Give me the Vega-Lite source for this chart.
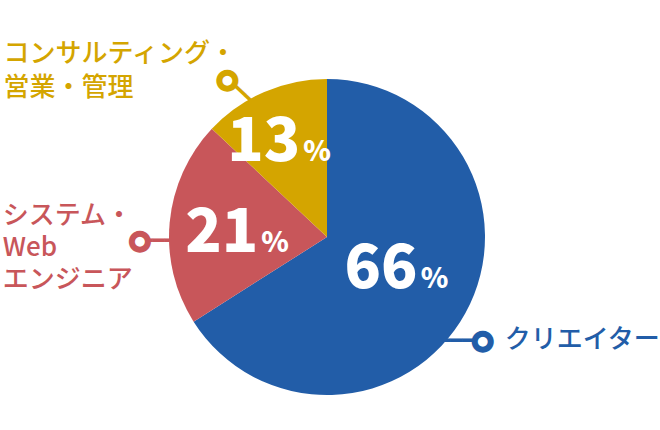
{
  "$schema": "https://vega.github.io/schema/vega-lite/v6.json",
  "autosize": {"type": "none"},
  "width": 654,
  "height": 386,
  "padding": {"left": 0, "top": 44, "right": 6, "bottom": 0},
  "background": "white",
  "view": {"stroke": null},
  "data": {"values": [
    {"cat": "クリエイター", "value": 66, "label": "クリエイター"},
    {"cat": "システム・Webエンジニア", "value": 21, "label": "システム・\nWeb\nエンジニア"},
    {"cat": "コンサルティング・営業・管理", "value": 13, "label": "コンサルティング・\n営業・管理"}
  ]},
  "encoding": {
    "theta": {"field": "value", "type": "quantitative", "stack": true},
    "order": {"field": "value", "type": "quantitative", "sort": "descending"},
    "detail": {"field": "cat", "type": "nominal"}
  },
  "layer": [
    {"mark": {"type": "arc", "outerRadius": 158},
     "encoding": {"color": {"field": "cat", "type": "nominal", "legend": null,
       "scale": {"domain": ["クリエイター", "システム・Webエンジニア", "コンサルティング・営業・管理"], "range": ["#225da8", "#c8565a", "#d4a500"]}}}},

    {"mark": {"type": "text", "radius": 180, "dx": -22, "dy": 17, "align": "center", "baseline": "middle", "font": "DejaVu Sans Mono", "fontSize": 20, "color": "#225da8"},
     "encoding": {"text": {"condition": {"test": "datum.cat === 'クリエイター'", "value": "━━━━"}, "value": ""}}},
    {"mark": {"type": "text", "radius": 180, "dx": 11, "dy": 21, "align": "center", "baseline": "middle", "font": "DejaVu Sans Mono", "fontSize": 20, "color": "#c8565a"},
     "encoding": {"text": {"condition": {"test": "datum.cat === 'システム・Webエンジニア'", "value": "━━━"}, "value": ""}}},
    {"mark": {"type": "text", "radius": 180, "dx": 2, "dy": 25, "angle": 43, "align": "center", "baseline": "middle", "font": "DejaVu Sans Mono", "fontSize": 20, "color": "#d4a500"},
     "encoding": {"text": {"condition": {"test": "datum.cat === 'コンサルティング・営業・管理'", "value": "━━━"}, "value": ""}}},

    {"mark": {"type": "text", "radius": 180, "dx": -2, "dy": 17, "align": "center", "baseline": "middle", "font": "DejaVu Sans", "fontSize": 21, "fill": "white", "stroke": "#225da8", "strokeWidth": 6},
     "encoding": {"text": {"condition": {"test": "datum.cat === 'クリエイター'", "value": "●"}, "value": ""}}},
    {"mark": {"type": "text", "radius": 180, "dx": -8, "dy": 21, "align": "center", "baseline": "middle", "font": "DejaVu Sans", "fontSize": 21, "fill": "white", "stroke": "#c8565a", "strokeWidth": 6},
     "encoding": {"text": {"condition": {"test": "datum.cat === 'システム・Webエンジニア'", "value": "●"}, "value": ""}}},
    {"mark": {"type": "text", "radius": 180, "dx": -28, "dy": 8, "align": "center", "baseline": "middle", "font": "DejaVu Sans", "fontSize": 21, "fill": "white", "stroke": "#d4a500", "strokeWidth": 6},
     "encoding": {"text": {"condition": {"test": "datum.cat === 'コンサルティング・営業・管理'", "value": "●"}, "value": ""}}},

    {"mark": {"type": "text", "radius": 180, "dx": 20, "dy": 3, "align": "left", "baseline": "top", "font": "Noto Sans CJK JP", "fontWeight": 500, "fontSize": 26, "color": "#225da8", "lineBreak": "\n", "lineHeight": 33},
     "encoding": {"text": {"condition": {"test": "datum.cat === 'クリエイター'", "field": "label"}, "value": ""}}},
    {"mark": {"type": "text", "radius": 180, "dx": -145, "dy": -17, "align": "left", "baseline": "top", "font": "Noto Sans CJK JP", "fontWeight": 500, "fontSize": 26, "color": "#c8565a", "lineBreak": "\n", "lineHeight": 32},
     "encoding": {"text": {"condition": {"test": "datum.cat === 'システム・Webエンジニア'", "field": "label"}, "value": ""}}},
    {"mark": {"type": "text", "radius": 180, "dx": -252, "dy": -31, "align": "left", "baseline": "top", "font": "Noto Sans CJK JP", "fontWeight": 500, "fontSize": 26, "color": "#d4a500", "lineBreak": "\n", "lineHeight": 34},
     "encoding": {"text": {"condition": {"test": "datum.cat === 'コンサルティング・営業・管理'", "field": "label"}, "value": ""}}},

    {"mark": {"type": "text", "radius": 100, "dx": 3, "dy": 3, "align": "right", "baseline": "alphabetic", "font": "Noto Sans CJK JP", "fontWeight": 900, "fontSize": 60, "color": "white"},
     "encoding": {"text": {"condition": {"test": "datum.cat === 'クリエイター'", "field": "value", "type": "quantitative"}, "value": ""}}},
    {"mark": {"type": "text", "radius": 100, "dx": 6, "dy": 3, "align": "left", "baseline": "alphabetic", "font": "Noto Sans CJK JP", "fontWeight": 900, "fontSize": 28, "color": "white"},
     "encoding": {"text": {"condition": {"test": "datum.cat === 'クリエイター'", "value": "%"}, "value": ""}}},
    {"mark": {"type": "text", "radius": 80, "dx": 11, "dy": 23, "align": "right", "baseline": "alphabetic", "font": "Noto Sans CJK JP", "fontWeight": 900, "fontSize": 60, "color": "white"},
     "encoding": {"text": {"condition": {"test": "datum.cat === 'システム・Webエンジニア'", "field": "value", "type": "quantitative"}, "value": ""}}},
    {"mark": {"type": "text", "radius": 80, "dx": 14, "dy": 23, "align": "left", "baseline": "alphabetic", "font": "Noto Sans CJK JP", "fontWeight": 900, "fontSize": 28, "color": "white"},
     "encoding": {"text": {"condition": {"test": "datum.cat === 'システム・Webエンジニア'", "value": "%"}, "value": ""}}},
    {"mark": {"type": "text", "radius": 90, "dx": 9, "dy": 7, "align": "right", "baseline": "alphabetic", "font": "Noto Sans CJK JP", "fontWeight": 900, "fontSize": 60, "color": "white"},
     "encoding": {"text": {"condition": {"test": "datum.cat === 'コンサルティング・営業・管理'", "field": "value", "type": "quantitative"}, "value": ""}}},
    {"mark": {"type": "text", "radius": 90, "dx": 12, "dy": 7, "align": "left", "baseline": "alphabetic", "font": "Noto Sans CJK JP", "fontWeight": 900, "fontSize": 28, "color": "white"},
     "encoding": {"text": {"condition": {"test": "datum.cat === 'コンサルティング・営業・管理'", "value": "%"}, "value": ""}}}
  ]
}
